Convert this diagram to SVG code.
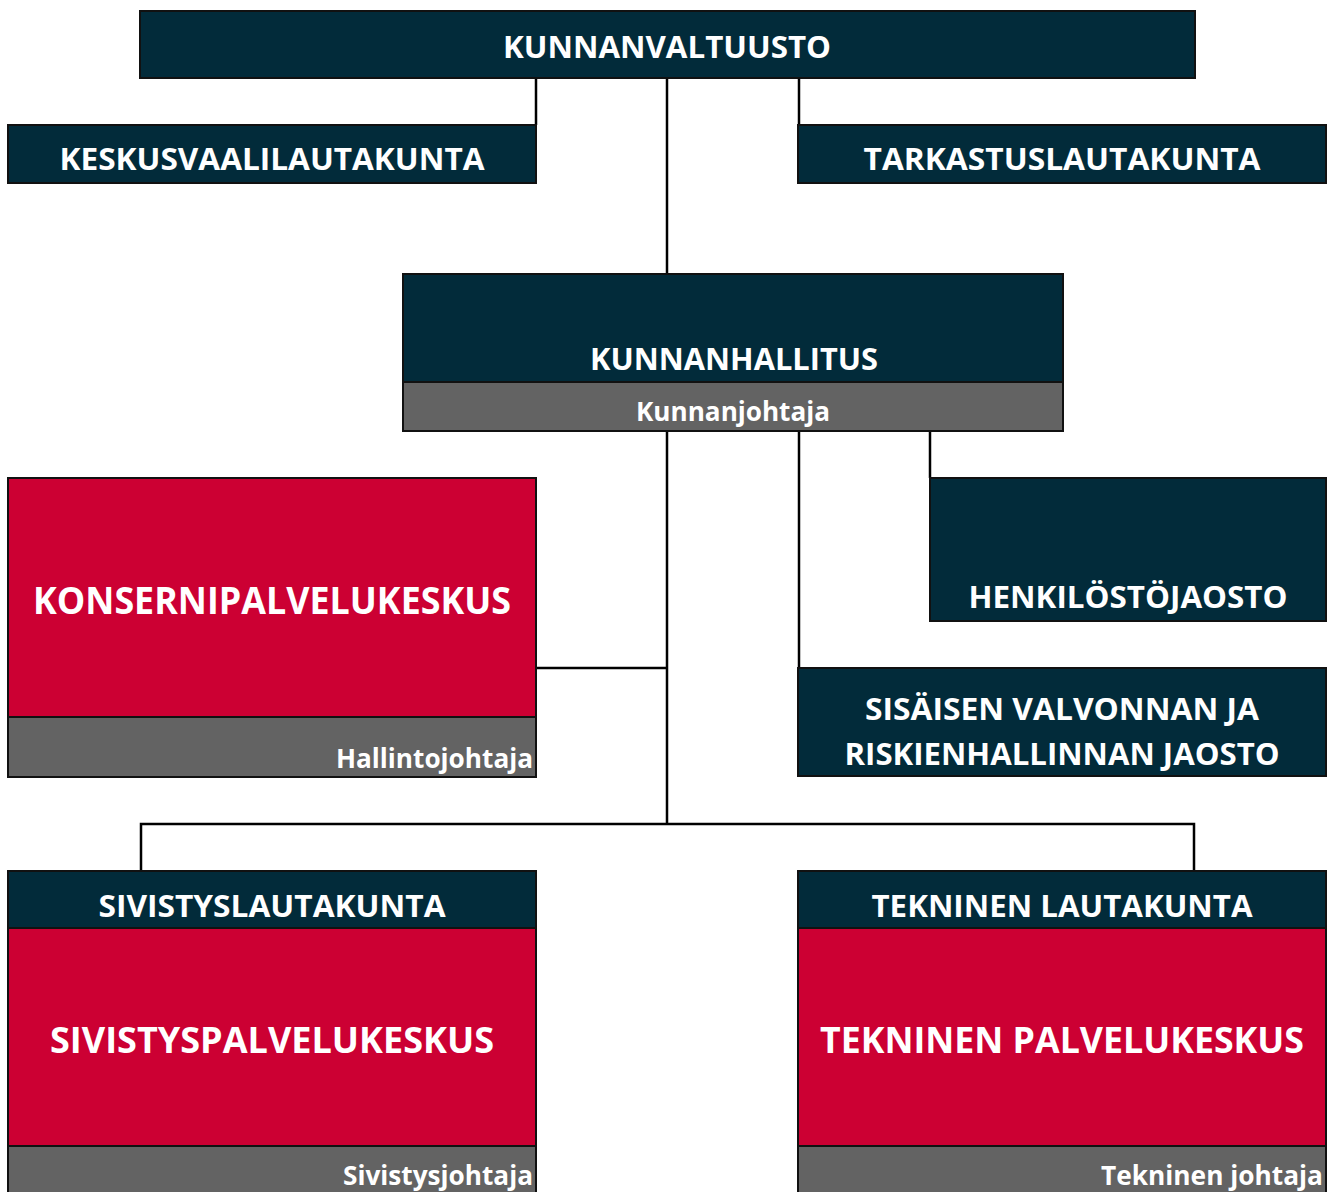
<svg xmlns="http://www.w3.org/2000/svg" width="1337" height="1192" viewBox="0 0 1337 1192">
<style>
.dark{fill:#022b3a;stroke:#111;stroke-width:2}
.red{fill:#cc0033;stroke:#111;stroke-width:2}
.gray{fill:#636363;stroke:#111;stroke-width:2}
.t{font-family:"Open Sans","Noto Sans","Liberation Sans",sans-serif;font-weight:bold;fill:#fff}
.c{text-anchor:middle}
.e{text-anchor:end}
.conn{fill:none;stroke:#000;stroke-width:2.5}
</style>
<rect width="1337" height="1192" fill="#fff"/>
<g id="connectors">
<path class="conn" d="M536,78 V125"/>
<path class="conn" d="M667,78 V274"/>
<path class="conn" d="M799,78 V125"/>
<path class="conn" d="M667,431 V824"/>
<path class="conn" d="M799,431 V668"/>
<path class="conn" d="M930,431 V478"/>
<path class="conn" d="M536,668 H667"/>
<path class="conn" d="M141,871 V824 H1194 V871"/>
</g>
<g id="kunnanvaltuusto">
<rect class="dark" x="140" y="11" width="1055" height="67"/>
<text class="t c" x="667" y="58" font-size="31" textLength="328" lengthAdjust="spacingAndGlyphs">KUNNANVALTUUSTO</text>
</g>
<g id="keskusvaalilautakunta">
<rect class="dark" x="8" y="125" width="528" height="58"/>
<text class="t c" x="272" y="170" font-size="31" textLength="425" lengthAdjust="spacingAndGlyphs">KESKUSVAALILAUTAKUNTA</text>
</g>
<g id="tarkastuslautakunta">
<rect class="dark" x="798" y="125" width="528" height="58"/>
<text class="t c" x="1062" y="170" font-size="31" textLength="397" lengthAdjust="spacingAndGlyphs">TARKASTUSLAUTAKUNTA</text>
</g>
<g id="kunnanhallitus">
<rect class="dark" x="403" y="274" width="660" height="108"/>
<rect class="gray" x="403" y="382" width="660" height="49"/>
<text class="t c" x="734" y="370" font-size="31" textLength="288" lengthAdjust="spacingAndGlyphs">KUNNANHALLITUS</text>
<text class="t c" x="733" y="421" font-size="26" textLength="194" lengthAdjust="spacingAndGlyphs">Kunnanjohtaja</text>
</g>
<g id="konsernipalvelukeskus">
<rect class="red" x="8" y="478" width="528" height="239"/>
<rect class="gray" x="8" y="717" width="528" height="60"/>
<text class="t c" x="272" y="614" font-size="37" textLength="478" lengthAdjust="spacingAndGlyphs">KONSERNIPALVELUKESKUS</text>
<text class="t e" x="533" y="768" font-size="26" textLength="197" lengthAdjust="spacingAndGlyphs">Hallintojohtaja</text>
</g>
<g id="henkilostojaosto">
<rect class="dark" x="930" y="478" width="396" height="143"/>
<text class="t c" x="1128" y="608" font-size="30" textLength="319" lengthAdjust="spacingAndGlyphs">HENKILÖSTÖJAOSTO</text>
</g>
<g id="sisaisen-valvonnan-jaosto">
<rect class="dark" x="798" y="668" width="528" height="108"/>
<text class="t c" x="1062" y="720" font-size="30" textLength="394" lengthAdjust="spacingAndGlyphs">SISÄISEN VALVONNAN JA</text>
<text class="t c" x="1062" y="765" font-size="30" textLength="435" lengthAdjust="spacingAndGlyphs">RISKIENHALLINNAN JAOSTO</text>
</g>
<g id="sivistyslautakunta">
<rect class="dark" x="8" y="871" width="528" height="57"/>
<rect class="red" x="8" y="928" width="528" height="218"/>
<rect class="gray" x="8" y="1146" width="528" height="50"/>
<text class="t c" x="272" y="917" font-size="30" textLength="347" lengthAdjust="spacingAndGlyphs">SIVISTYSLAUTAKUNTA</text>
<text class="t c" x="272" y="1053" font-size="36" textLength="444" lengthAdjust="spacingAndGlyphs">SIVISTYSPALVELUKESKUS</text>
<text class="t e" x="533" y="1185" font-size="26" textLength="190" lengthAdjust="spacingAndGlyphs">Sivistysjohtaja</text>
</g>
<g id="tekninen-lautakunta">
<rect class="dark" x="798" y="871" width="528" height="57"/>
<rect class="red" x="798" y="928" width="528" height="218"/>
<rect class="gray" x="798" y="1146" width="528" height="50"/>
<text class="t c" x="1062" y="917" font-size="30" textLength="381" lengthAdjust="spacingAndGlyphs">TEKNINEN LAUTAKUNTA</text>
<text class="t c" x="1062" y="1053" font-size="36" textLength="484" lengthAdjust="spacingAndGlyphs">TEKNINEN PALVELUKESKUS</text>
<text class="t e" x="1323" y="1185" font-size="26" textLength="222" lengthAdjust="spacingAndGlyphs">Tekninen johtaja</text>
</g>
</svg>
